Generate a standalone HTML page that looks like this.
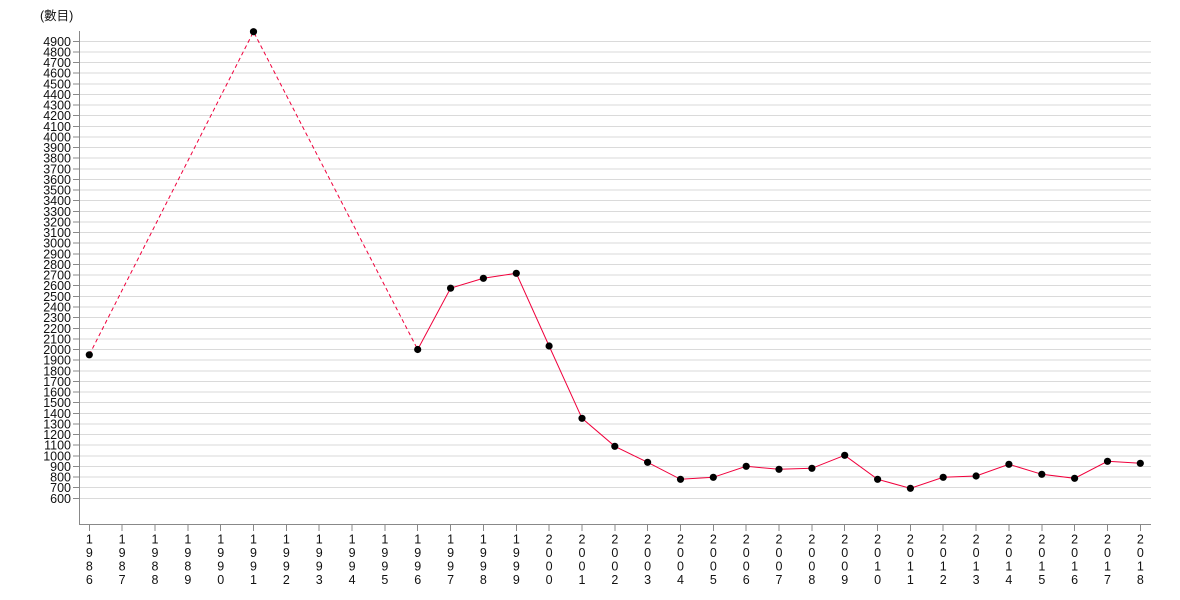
<!DOCTYPE html>
<html><head><meta charset="utf-8"><style>
html,body{margin:0;padding:0;background:#fff;}
svg{display:block;font-family:"Liberation Sans","Noto Sans CJK TC",sans-serif;}
</style></head><body>
<svg width="1180" height="600" viewBox="0 0 1180 600" xmlns="http://www.w3.org/2000/svg">
<text x="40" y="20" font-size="12.5" fill="#111">(數目)</text>
<g stroke="#dadada" stroke-width="1" shape-rendering="crispEdges">
<line x1="80" x2="1151" y1="41.3" y2="41.3"/><line x1="80" x2="1151" y1="51.9" y2="51.9"/><line x1="80" x2="1151" y1="62.6" y2="62.6"/><line x1="80" x2="1151" y1="73.2" y2="73.2"/><line x1="80" x2="1151" y1="83.8" y2="83.8"/><line x1="80" x2="1151" y1="94.4" y2="94.4"/><line x1="80" x2="1151" y1="105.1" y2="105.1"/><line x1="80" x2="1151" y1="115.7" y2="115.7"/><line x1="80" x2="1151" y1="126.3" y2="126.3"/><line x1="80" x2="1151" y1="137" y2="137"/><line x1="80" x2="1151" y1="147.6" y2="147.6"/><line x1="80" x2="1151" y1="158.2" y2="158.2"/><line x1="80" x2="1151" y1="168.8" y2="168.8"/><line x1="80" x2="1151" y1="179.5" y2="179.5"/><line x1="80" x2="1151" y1="190.1" y2="190.1"/><line x1="80" x2="1151" y1="200.7" y2="200.7"/><line x1="80" x2="1151" y1="211.4" y2="211.4"/><line x1="80" x2="1151" y1="222" y2="222"/><line x1="80" x2="1151" y1="232.6" y2="232.6"/><line x1="80" x2="1151" y1="243.2" y2="243.2"/><line x1="80" x2="1151" y1="253.9" y2="253.9"/><line x1="80" x2="1151" y1="264.5" y2="264.5"/><line x1="80" x2="1151" y1="275.1" y2="275.1"/><line x1="80" x2="1151" y1="285.7" y2="285.7"/><line x1="80" x2="1151" y1="296.4" y2="296.4"/><line x1="80" x2="1151" y1="307" y2="307"/><line x1="80" x2="1151" y1="317.6" y2="317.6"/><line x1="80" x2="1151" y1="328.3" y2="328.3"/><line x1="80" x2="1151" y1="338.9" y2="338.9"/><line x1="80" x2="1151" y1="349.5" y2="349.5"/><line x1="80" x2="1151" y1="360.1" y2="360.1"/><line x1="80" x2="1151" y1="370.8" y2="370.8"/><line x1="80" x2="1151" y1="381.4" y2="381.4"/><line x1="80" x2="1151" y1="392" y2="392"/><line x1="80" x2="1151" y1="402.7" y2="402.7"/><line x1="80" x2="1151" y1="413.3" y2="413.3"/><line x1="80" x2="1151" y1="423.9" y2="423.9"/><line x1="80" x2="1151" y1="434.5" y2="434.5"/><line x1="80" x2="1151" y1="445.2" y2="445.2"/><line x1="80" x2="1151" y1="455.8" y2="455.8"/><line x1="80" x2="1151" y1="466.4" y2="466.4"/><line x1="80" x2="1151" y1="477" y2="477"/><line x1="80" x2="1151" y1="487.7" y2="487.7"/><line x1="80" x2="1151" y1="498.3" y2="498.3"/>
</g>
<g stroke="#888" stroke-width="1" shape-rendering="crispEdges">
<line x1="79.5" x2="79.5" y1="31" y2="524.5"/>
<line x1="79" x2="1151" y1="524.5" y2="524.5"/>
<line x1="73" x2="79" y1="41.3" y2="41.3"/><line x1="73" x2="79" y1="51.9" y2="51.9"/><line x1="73" x2="79" y1="62.6" y2="62.6"/><line x1="73" x2="79" y1="73.2" y2="73.2"/><line x1="73" x2="79" y1="83.8" y2="83.8"/><line x1="73" x2="79" y1="94.4" y2="94.4"/><line x1="73" x2="79" y1="105.1" y2="105.1"/><line x1="73" x2="79" y1="115.7" y2="115.7"/><line x1="73" x2="79" y1="126.3" y2="126.3"/><line x1="73" x2="79" y1="137" y2="137"/><line x1="73" x2="79" y1="147.6" y2="147.6"/><line x1="73" x2="79" y1="158.2" y2="158.2"/><line x1="73" x2="79" y1="168.8" y2="168.8"/><line x1="73" x2="79" y1="179.5" y2="179.5"/><line x1="73" x2="79" y1="190.1" y2="190.1"/><line x1="73" x2="79" y1="200.7" y2="200.7"/><line x1="73" x2="79" y1="211.4" y2="211.4"/><line x1="73" x2="79" y1="222" y2="222"/><line x1="73" x2="79" y1="232.6" y2="232.6"/><line x1="73" x2="79" y1="243.2" y2="243.2"/><line x1="73" x2="79" y1="253.9" y2="253.9"/><line x1="73" x2="79" y1="264.5" y2="264.5"/><line x1="73" x2="79" y1="275.1" y2="275.1"/><line x1="73" x2="79" y1="285.7" y2="285.7"/><line x1="73" x2="79" y1="296.4" y2="296.4"/><line x1="73" x2="79" y1="307" y2="307"/><line x1="73" x2="79" y1="317.6" y2="317.6"/><line x1="73" x2="79" y1="328.3" y2="328.3"/><line x1="73" x2="79" y1="338.9" y2="338.9"/><line x1="73" x2="79" y1="349.5" y2="349.5"/><line x1="73" x2="79" y1="360.1" y2="360.1"/><line x1="73" x2="79" y1="370.8" y2="370.8"/><line x1="73" x2="79" y1="381.4" y2="381.4"/><line x1="73" x2="79" y1="392" y2="392"/><line x1="73" x2="79" y1="402.7" y2="402.7"/><line x1="73" x2="79" y1="413.3" y2="413.3"/><line x1="73" x2="79" y1="423.9" y2="423.9"/><line x1="73" x2="79" y1="434.5" y2="434.5"/><line x1="73" x2="79" y1="445.2" y2="445.2"/><line x1="73" x2="79" y1="455.8" y2="455.8"/><line x1="73" x2="79" y1="466.4" y2="466.4"/><line x1="73" x2="79" y1="477" y2="477"/><line x1="73" x2="79" y1="487.7" y2="487.7"/><line x1="73" x2="79" y1="498.3" y2="498.3"/>
<line x1="89.3" x2="89.3" y1="524" y2="531"/><line x1="122.1" x2="122.1" y1="524" y2="531"/><line x1="155" x2="155" y1="524" y2="531"/><line x1="187.8" x2="187.8" y1="524" y2="531"/><line x1="220.7" x2="220.7" y1="524" y2="531"/><line x1="253.5" x2="253.5" y1="524" y2="531"/><line x1="286.4" x2="286.4" y1="524" y2="531"/><line x1="319.2" x2="319.2" y1="524" y2="531"/><line x1="352.1" x2="352.1" y1="524" y2="531"/><line x1="384.9" x2="384.9" y1="524" y2="531"/><line x1="417.7" x2="417.7" y1="524" y2="531"/><line x1="450.6" x2="450.6" y1="524" y2="531"/><line x1="483.4" x2="483.4" y1="524" y2="531"/><line x1="516.3" x2="516.3" y1="524" y2="531"/><line x1="549.1" x2="549.1" y1="524" y2="531"/><line x1="582" x2="582" y1="524" y2="531"/><line x1="614.8" x2="614.8" y1="524" y2="531"/><line x1="647.6" x2="647.6" y1="524" y2="531"/><line x1="680.5" x2="680.5" y1="524" y2="531"/><line x1="713.3" x2="713.3" y1="524" y2="531"/><line x1="746.2" x2="746.2" y1="524" y2="531"/><line x1="779" x2="779" y1="524" y2="531"/><line x1="811.9" x2="811.9" y1="524" y2="531"/><line x1="844.7" x2="844.7" y1="524" y2="531"/><line x1="877.6" x2="877.6" y1="524" y2="531"/><line x1="910.4" x2="910.4" y1="524" y2="531"/><line x1="943.2" x2="943.2" y1="524" y2="531"/><line x1="976.1" x2="976.1" y1="524" y2="531"/><line x1="1008.9" x2="1008.9" y1="524" y2="531"/><line x1="1041.8" x2="1041.8" y1="524" y2="531"/><line x1="1074.6" x2="1074.6" y1="524" y2="531"/><line x1="1107.5" x2="1107.5" y1="524" y2="531"/><line x1="1140.3" x2="1140.3" y1="524" y2="531"/>
</g>
<g font-size="12.5" fill="#111" text-anchor="end">
<text x="71" y="45.8">4900</text><text x="71" y="56.4">4800</text><text x="71" y="67.1">4700</text><text x="71" y="77.7">4600</text><text x="71" y="88.3">4500</text><text x="71" y="98.9">4400</text><text x="71" y="109.6">4300</text><text x="71" y="120.2">4200</text><text x="71" y="130.8">4100</text><text x="71" y="141.5">4000</text><text x="71" y="152.1">3900</text><text x="71" y="162.7">3800</text><text x="71" y="173.3">3700</text><text x="71" y="184">3600</text><text x="71" y="194.6">3500</text><text x="71" y="205.2">3400</text><text x="71" y="215.9">3300</text><text x="71" y="226.5">3200</text><text x="71" y="237.1">3100</text><text x="71" y="247.7">3000</text><text x="71" y="258.4">2900</text><text x="71" y="269">2800</text><text x="71" y="279.6">2700</text><text x="71" y="290.2">2600</text><text x="71" y="300.9">2500</text><text x="71" y="311.5">2400</text><text x="71" y="322.1">2300</text><text x="71" y="332.8">2200</text><text x="71" y="343.4">2100</text><text x="71" y="354">2000</text><text x="71" y="364.6">1900</text><text x="71" y="375.3">1800</text><text x="71" y="385.9">1700</text><text x="71" y="396.5">1600</text><text x="71" y="407.2">1500</text><text x="71" y="417.8">1400</text><text x="71" y="428.4">1300</text><text x="71" y="439">1200</text><text x="71" y="449.7">1100</text><text x="71" y="460.3">1000</text><text x="71" y="470.9">900</text><text x="71" y="481.5">800</text><text x="71" y="492.2">700</text><text x="71" y="502.8">600</text>
</g>
<g font-size="12.5" fill="#111" text-anchor="middle">
<text x="89.3" y="543.5"><tspan x="89.3">1</tspan><tspan x="89.3" dy="13.5">9</tspan><tspan x="89.3" dy="13.5">8</tspan><tspan x="89.3" dy="13.5">6</tspan></text>
<text y="543.5"><tspan x="122.1">1</tspan><tspan x="122.1" dy="13.5">9</tspan><tspan x="122.1" dy="13.5">8</tspan><tspan x="122.1" dy="13.5">7</tspan></text>
<text y="543.5"><tspan x="155">1</tspan><tspan x="155" dy="13.5">9</tspan><tspan x="155" dy="13.5">8</tspan><tspan x="155" dy="13.5">8</tspan></text>
<text y="543.5"><tspan x="187.8">1</tspan><tspan x="187.8" dy="13.5">9</tspan><tspan x="187.8" dy="13.5">8</tspan><tspan x="187.8" dy="13.5">9</tspan></text>
<text y="543.5"><tspan x="220.7">1</tspan><tspan x="220.7" dy="13.5">9</tspan><tspan x="220.7" dy="13.5">9</tspan><tspan x="220.7" dy="13.5">0</tspan></text>
<text y="543.5"><tspan x="253.5">1</tspan><tspan x="253.5" dy="13.5">9</tspan><tspan x="253.5" dy="13.5">9</tspan><tspan x="253.5" dy="13.5">1</tspan></text>
<text y="543.5"><tspan x="286.4">1</tspan><tspan x="286.4" dy="13.5">9</tspan><tspan x="286.4" dy="13.5">9</tspan><tspan x="286.4" dy="13.5">2</tspan></text>
<text y="543.5"><tspan x="319.2">1</tspan><tspan x="319.2" dy="13.5">9</tspan><tspan x="319.2" dy="13.5">9</tspan><tspan x="319.2" dy="13.5">3</tspan></text>
<text y="543.5"><tspan x="352.1">1</tspan><tspan x="352.1" dy="13.5">9</tspan><tspan x="352.1" dy="13.5">9</tspan><tspan x="352.1" dy="13.5">4</tspan></text>
<text y="543.5"><tspan x="384.9">1</tspan><tspan x="384.9" dy="13.5">9</tspan><tspan x="384.9" dy="13.5">9</tspan><tspan x="384.9" dy="13.5">5</tspan></text>
<text y="543.5"><tspan x="417.7">1</tspan><tspan x="417.7" dy="13.5">9</tspan><tspan x="417.7" dy="13.5">9</tspan><tspan x="417.7" dy="13.5">6</tspan></text>
<text y="543.5"><tspan x="450.6">1</tspan><tspan x="450.6" dy="13.5">9</tspan><tspan x="450.6" dy="13.5">9</tspan><tspan x="450.6" dy="13.5">7</tspan></text>
<text y="543.5"><tspan x="483.4">1</tspan><tspan x="483.4" dy="13.5">9</tspan><tspan x="483.4" dy="13.5">9</tspan><tspan x="483.4" dy="13.5">8</tspan></text>
<text y="543.5"><tspan x="516.3">1</tspan><tspan x="516.3" dy="13.5">9</tspan><tspan x="516.3" dy="13.5">9</tspan><tspan x="516.3" dy="13.5">9</tspan></text>
<text y="543.5"><tspan x="549.1">2</tspan><tspan x="549.1" dy="13.5">0</tspan><tspan x="549.1" dy="13.5">0</tspan><tspan x="549.1" dy="13.5">0</tspan></text>
<text y="543.5"><tspan x="582">2</tspan><tspan x="582" dy="13.5">0</tspan><tspan x="582" dy="13.5">0</tspan><tspan x="582" dy="13.5">1</tspan></text>
<text y="543.5"><tspan x="614.8">2</tspan><tspan x="614.8" dy="13.5">0</tspan><tspan x="614.8" dy="13.5">0</tspan><tspan x="614.8" dy="13.5">2</tspan></text>
<text y="543.5"><tspan x="647.6">2</tspan><tspan x="647.6" dy="13.5">0</tspan><tspan x="647.6" dy="13.5">0</tspan><tspan x="647.6" dy="13.5">3</tspan></text>
<text y="543.5"><tspan x="680.5">2</tspan><tspan x="680.5" dy="13.5">0</tspan><tspan x="680.5" dy="13.5">0</tspan><tspan x="680.5" dy="13.5">4</tspan></text>
<text y="543.5"><tspan x="713.3">2</tspan><tspan x="713.3" dy="13.5">0</tspan><tspan x="713.3" dy="13.5">0</tspan><tspan x="713.3" dy="13.5">5</tspan></text>
<text y="543.5"><tspan x="746.2">2</tspan><tspan x="746.2" dy="13.5">0</tspan><tspan x="746.2" dy="13.5">0</tspan><tspan x="746.2" dy="13.5">6</tspan></text>
<text y="543.5"><tspan x="779">2</tspan><tspan x="779" dy="13.5">0</tspan><tspan x="779" dy="13.5">0</tspan><tspan x="779" dy="13.5">7</tspan></text>
<text y="543.5"><tspan x="811.9">2</tspan><tspan x="811.9" dy="13.5">0</tspan><tspan x="811.9" dy="13.5">0</tspan><tspan x="811.9" dy="13.5">8</tspan></text>
<text y="543.5"><tspan x="844.7">2</tspan><tspan x="844.7" dy="13.5">0</tspan><tspan x="844.7" dy="13.5">0</tspan><tspan x="844.7" dy="13.5">9</tspan></text>
<text y="543.5"><tspan x="877.6">2</tspan><tspan x="877.6" dy="13.5">0</tspan><tspan x="877.6" dy="13.5">1</tspan><tspan x="877.6" dy="13.5">0</tspan></text>
<text y="543.5"><tspan x="910.4">2</tspan><tspan x="910.4" dy="13.5">0</tspan><tspan x="910.4" dy="13.5">1</tspan><tspan x="910.4" dy="13.5">1</tspan></text>
<text y="543.5"><tspan x="943.2">2</tspan><tspan x="943.2" dy="13.5">0</tspan><tspan x="943.2" dy="13.5">1</tspan><tspan x="943.2" dy="13.5">2</tspan></text>
<text y="543.5"><tspan x="976.1">2</tspan><tspan x="976.1" dy="13.5">0</tspan><tspan x="976.1" dy="13.5">1</tspan><tspan x="976.1" dy="13.5">3</tspan></text>
<text y="543.5"><tspan x="1008.9">2</tspan><tspan x="1008.9" dy="13.5">0</tspan><tspan x="1008.9" dy="13.5">1</tspan><tspan x="1008.9" dy="13.5">4</tspan></text>
<text y="543.5"><tspan x="1041.8">2</tspan><tspan x="1041.8" dy="13.5">0</tspan><tspan x="1041.8" dy="13.5">1</tspan><tspan x="1041.8" dy="13.5">5</tspan></text>
<text y="543.5"><tspan x="1074.6">2</tspan><tspan x="1074.6" dy="13.5">0</tspan><tspan x="1074.6" dy="13.5">1</tspan><tspan x="1074.6" dy="13.5">6</tspan></text>
<text y="543.5"><tspan x="1107.5">2</tspan><tspan x="1107.5" dy="13.5">0</tspan><tspan x="1107.5" dy="13.5">1</tspan><tspan x="1107.5" dy="13.5">7</tspan></text>
<text y="543.5"><tspan x="1140.3">2</tspan><tspan x="1140.3" dy="13.5">0</tspan><tspan x="1140.3" dy="13.5">1</tspan><tspan x="1140.3" dy="13.5">8</tspan></text>
</g>
<g fill="none" stroke="#f0003c" stroke-width="1">
<polyline stroke-dasharray="4,3" points="89.3,354.8 253.5,31.7 417.7,349.5"/>
<polyline points="417.7,349.5 450.6,288.2 483.4,278.3 516.3,273.3 549.1,346 582,418.3 614.8,446.3 647.6,462.3 680.5,479.3 713.3,477.3 746.2,466.3 779,469.3 811.9,468.3 844.7,455.3 877.6,479.3 910.4,488.3 943.2,477.3 976.1,476 1008.9,464.3 1041.8,474.3 1074.6,478.3 1107.5,461.3 1140.3,463.3"/>
</g>
<g fill="#000">
<circle cx="89.3" cy="354.8" r="3.6"/><circle cx="253.5" cy="31.7" r="3.6"/><circle cx="417.7" cy="349.5" r="3.6"/><circle cx="450.6" cy="288.2" r="3.6"/><circle cx="483.4" cy="278.3" r="3.6"/><circle cx="516.3" cy="273.3" r="3.6"/><circle cx="549.1" cy="346" r="3.6"/><circle cx="582" cy="418.3" r="3.6"/><circle cx="614.8" cy="446.3" r="3.6"/><circle cx="647.6" cy="462.3" r="3.6"/><circle cx="680.5" cy="479.3" r="3.6"/><circle cx="713.3" cy="477.3" r="3.6"/><circle cx="746.2" cy="466.3" r="3.6"/><circle cx="779" cy="469.3" r="3.6"/><circle cx="811.9" cy="468.3" r="3.6"/><circle cx="844.7" cy="455.3" r="3.6"/><circle cx="877.6" cy="479.3" r="3.6"/><circle cx="910.4" cy="488.3" r="3.6"/><circle cx="943.2" cy="477.3" r="3.6"/><circle cx="976.1" cy="476" r="3.6"/><circle cx="1008.9" cy="464.3" r="3.6"/><circle cx="1041.8" cy="474.3" r="3.6"/><circle cx="1074.6" cy="478.3" r="3.6"/><circle cx="1107.5" cy="461.3" r="3.6"/><circle cx="1140.3" cy="463.3" r="3.6"/>
</g>
</svg>
</body></html>
